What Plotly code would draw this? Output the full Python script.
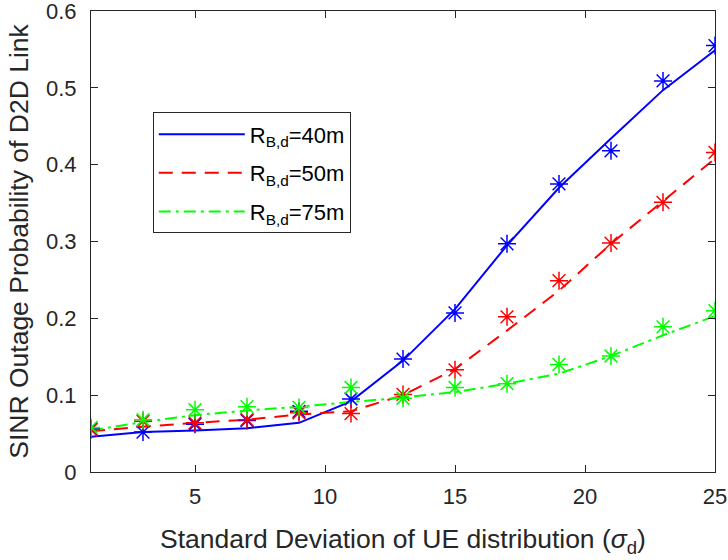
import plotly.graph_objects as go

# ---- data ----
sigma_d = [1, 3, 5, 7, 9, 11, 13, 15, 17, 19, 21, 23, 25]

# analytical curves (lines)
ana_40 = [0.046, 0.052, 0.054, 0.057, 0.064, 0.092, 0.145, 0.212, 0.295, 0.370, 0.434, 0.497, 0.549]
ana_50 = [0.053, 0.059, 0.064, 0.068, 0.075, 0.079, 0.100, 0.134, 0.184, 0.236, 0.297, 0.352, 0.408]
ana_75 = [0.054, 0.065, 0.074, 0.080, 0.085, 0.091, 0.097, 0.104, 0.115, 0.128, 0.151, 0.178, 0.203]

# simulation results (markers)
sim_40 = [0.056, 0.052, 0.062, 0.067, 0.079, 0.095, 0.147, 0.207, 0.297, 0.375, 0.418, 0.509, 0.555]
sim_50 = [0.055, 0.066, 0.064, 0.068, 0.077, 0.076, 0.101, 0.133, 0.202, 0.249, 0.298, 0.351, 0.416]
sim_75 = [0.058, 0.068, 0.081, 0.085, 0.084, 0.110, 0.096, 0.110, 0.115, 0.140, 0.151, 0.189, 0.210]

names = ["R<sub>B,d</sub>=40m", "R<sub>B,d</sub>=50m", "R<sub>B,d</sub>=75m"]
x_ticks = [5, 10, 15, 20, 25]
y_ticks = [0, 0.1, 0.2, 0.3, 0.4, 0.5, 0.6]
y_tick_text = ["0", "0.1", "0.2", "0.3", "0.4", "0.5", "0.6"]

colors = ["#0000FF", "#FF0000", "#00FF00"]
dashes = ["solid", "14px,9px", "12px,5px,3px,5px"]
FONT = "Liberation Sans, Arial, Helvetica, sans-serif"
AX = "#262626"

fig = go.Figure()
for i, ana in enumerate([ana_40, ana_50, ana_75]):
    fig.add_trace(go.Scatter(
        x=sigma_d, y=ana, mode="lines", name=names[i],
        line=dict(color=colors[i], width=2, dash=dashes[i]),
        legendgroup=f"g{i}", showlegend=True))
for i, sim in enumerate([sim_40, sim_50, sim_75]):
    fig.add_trace(go.Scatter(
        x=sigma_d, y=sim, mode="markers", showlegend=False,
        legendgroup=f"g{i}",
        marker=dict(symbol="asterisk-open", size=15, color=colors[i],
                    line=dict(color=colors[i], width=1.5))))

fig.update_layout(
    width=728, height=560,
    margin=dict(l=91, r=13, t=11, b=88),
    paper_bgcolor="white", plot_bgcolor="white",
    font=dict(family=FONT, color=AX),
    legend=dict(
        x=0.099, y=0.78, xanchor="left", yanchor="top",
        bordercolor=AX, borderwidth=1, bgcolor="white",
        font=dict(size=22, family=FONT, color="#000000"),
        itemwidth=86, tracegroupgap=7),
)
fig.update_xaxes(
    range=[1, 25], tickvals=x_ticks, ticks="inside", ticklen=7, tickcolor=AX,
    showline=True, linecolor=AX, linewidth=1, mirror="ticks",
    showgrid=False, zeroline=False, automargin=False,
    tickfont=dict(size=22, family=FONT, color=AX),
    ticklabelstandoff=5,
    title=dict(text="Standard Deviation of UE distribution (<i>σ</i><sub>d</sub>)",
               font=dict(size=26.5, family=FONT, color=AX), standoff=21),
)
fig.update_yaxes(
    range=[0, 0.60001], tickvals=y_ticks, ticktext=y_tick_text, ticks="inside", ticklen=7, tickcolor=AX,
    showline=True, linecolor=AX, linewidth=1, mirror="ticks",
    showgrid=False, zeroline=False, automargin=False,
    tickfont=dict(size=22, family=FONT, color=AX),
    ticklabelstandoff=9, ticklabeloverflow="allow",
    title=dict(text="SINR Outage Probability of D2D Link",
               font=dict(size=26.5, family=FONT, color=AX), standoff=9),
)

fig.write_html("out.html")
